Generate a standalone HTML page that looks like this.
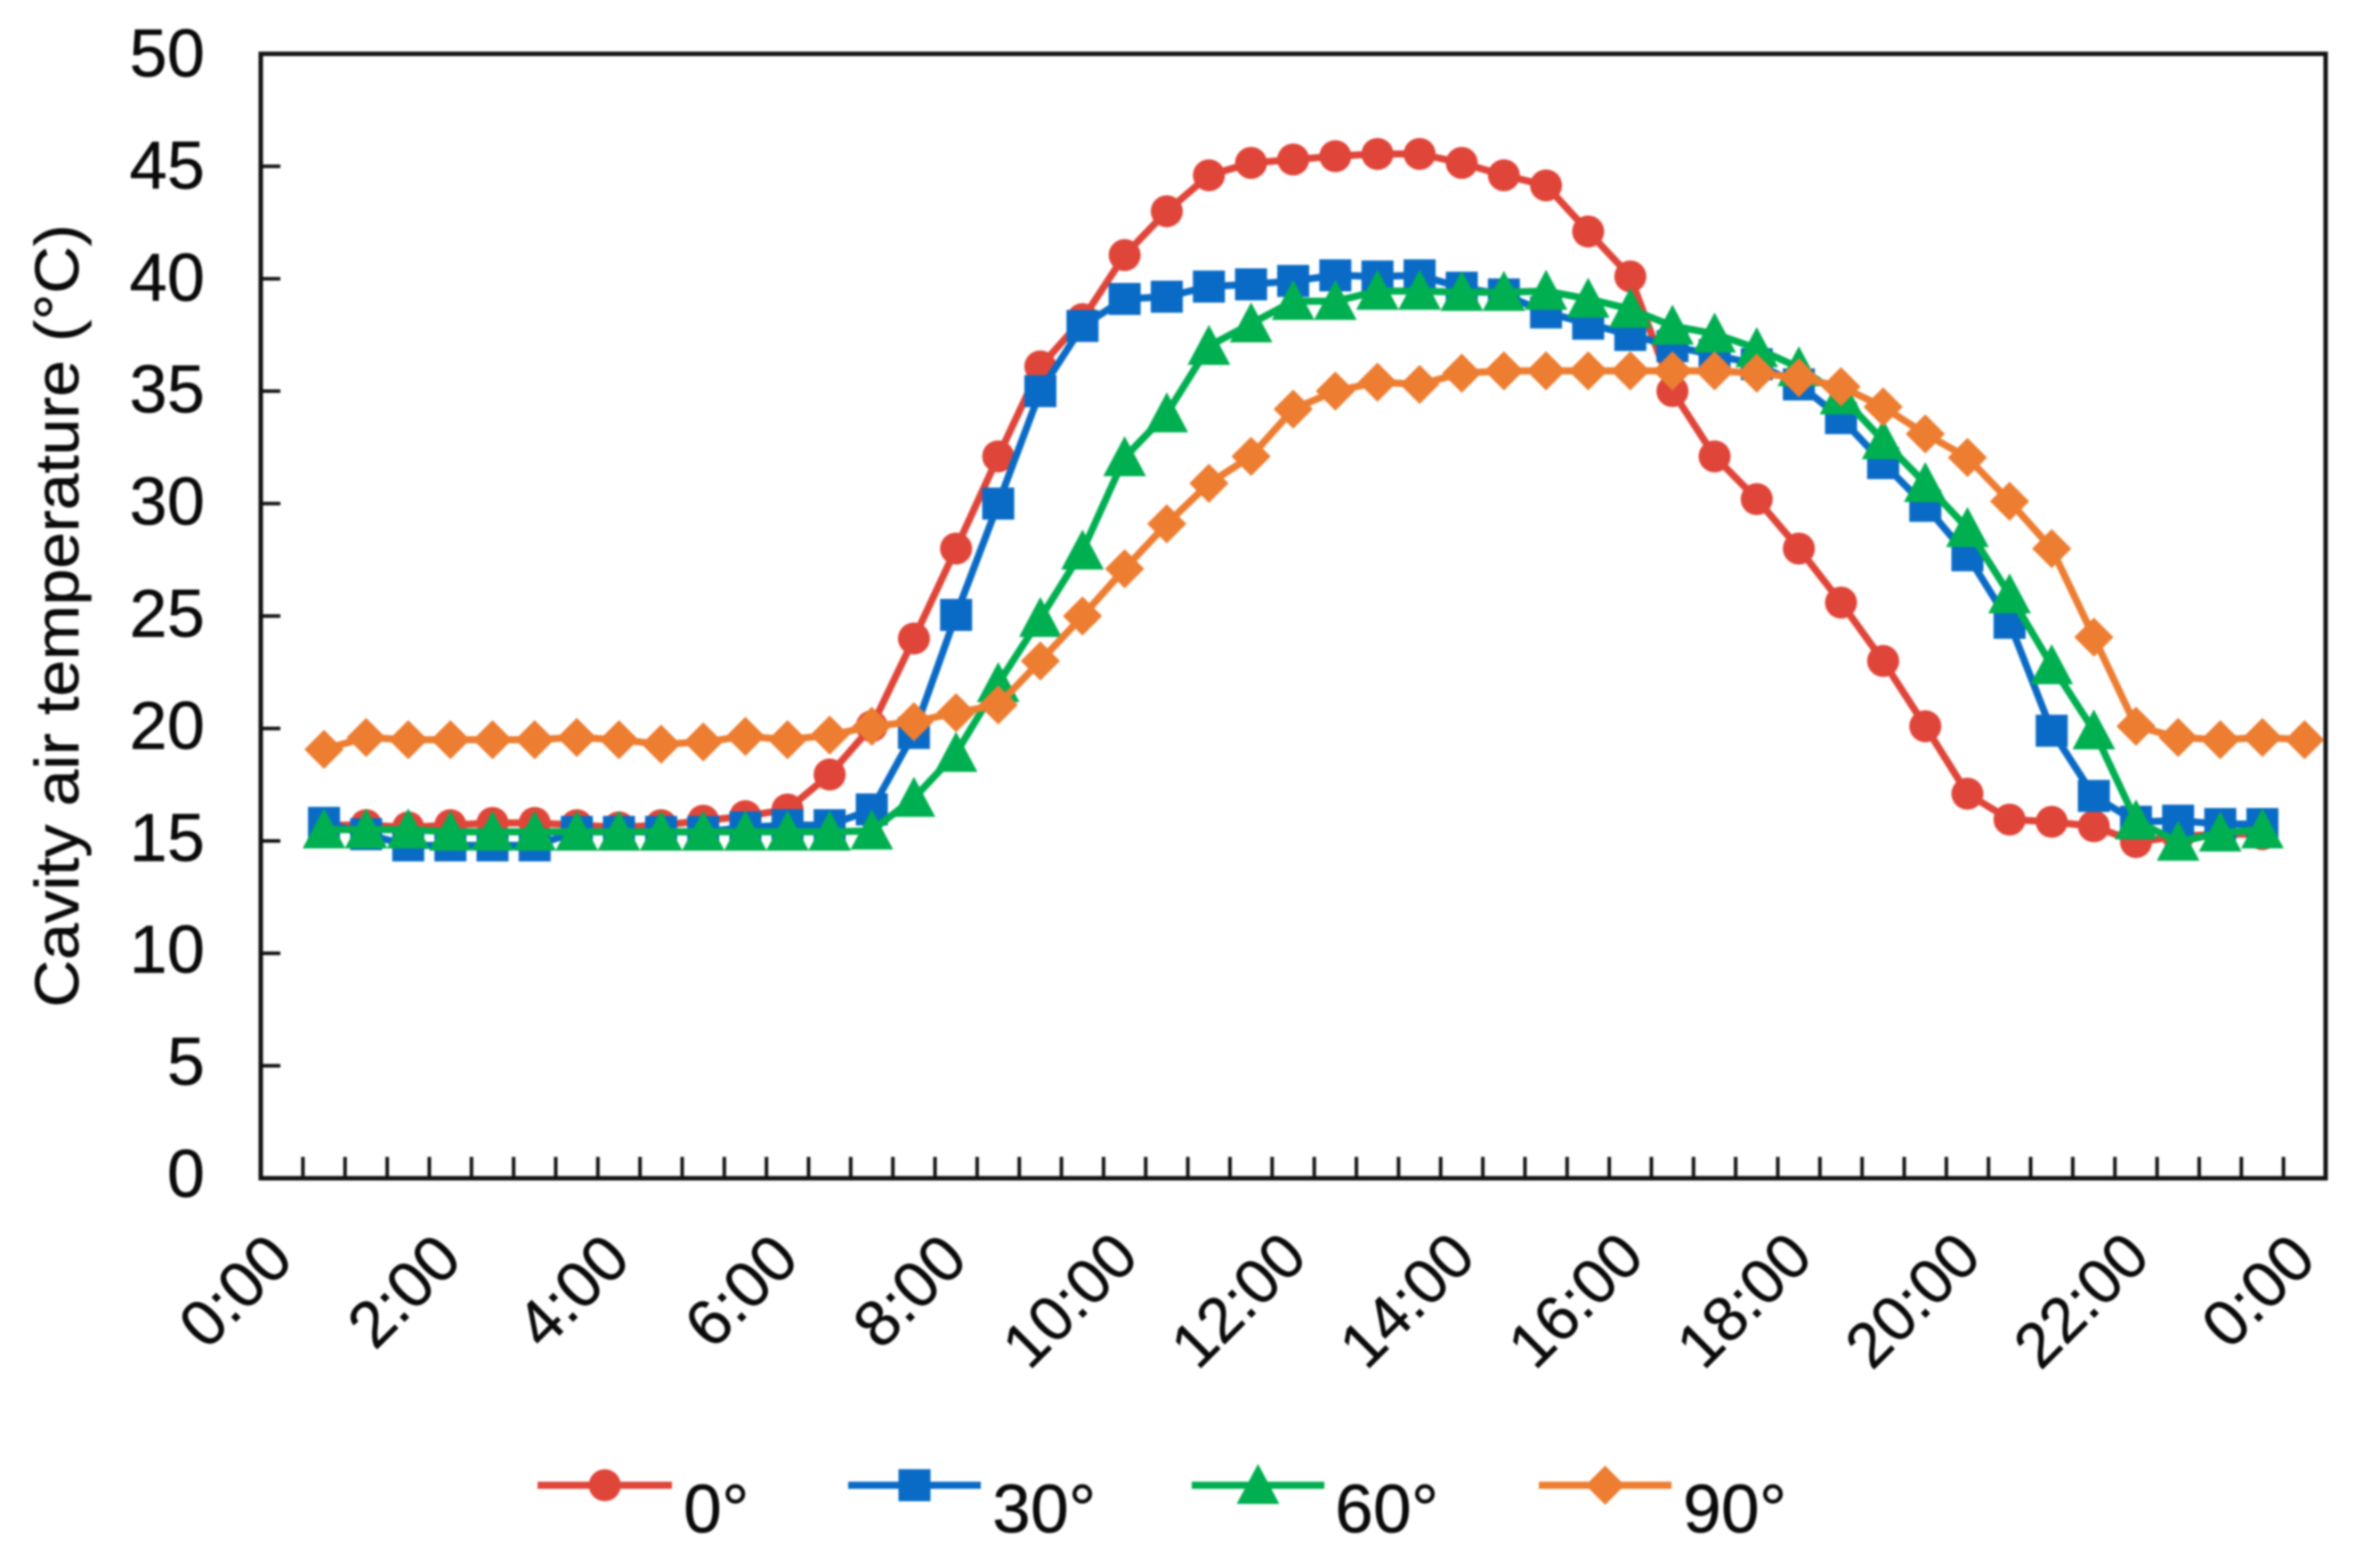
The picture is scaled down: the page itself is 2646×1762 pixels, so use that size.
<!DOCTYPE html>
<html lang="en">
<head>
<meta charset="utf-8">
<title>Cavity air temperature</title>
<style>
html,body{margin:0;padding:0;background:#fff;width:2646px;height:1762px;overflow:hidden}
svg{display:block;filter:blur(1px)}
text{font-family:"Liberation Sans",Arial,sans-serif;fill:#0a0a0a;stroke:#0a0a0a;stroke-width:0.5px}
</style>
</head>
<body>
<svg id="chart" xmlns="http://www.w3.org/2000/svg" width="2646" height="1762" viewBox="0 0 2646 1762">
  <rect x="0" y="0" width="2646" height="1762" fill="#fff"/>
  <text transform="translate(88,692) rotate(-90)" text-anchor="middle" font-size="70" textLength="880" lengthAdjust="spacingAndGlyphs">Cavity air temperature (°C)</text>
  <g id="axes"></g>
  <g id="series"></g>
  <g id="legend"></g>
</svg>
<script>
const categories = ['0:00','0:30','1:00','1:30','2:00','2:30','3:00','3:30','4:00','4:30','5:00','5:30','6:00','6:30','7:00','7:30','8:00','8:30','9:00','9:30','10:00','10:30','11:00','11:30','12:00','12:30','13:00','13:30','14:00','14:30','15:00','15:30','16:00','16:30','17:00','17:30','18:00','18:30','19:00','19:30','20:00','20:30','21:00','21:30','22:00','22:30','23:00','23:30','0:00'];
const xTickLabels = ['0:00','2:00','4:00','6:00','8:00','10:00','12:00','14:00','16:00','18:00','20:00','22:00','0:00'];
const yTickValues = [0,5,10,15,20,25,30,35,40,45,50];
const values0 = [null,15.7,15.7,15.6,15.7,15.8,15.8,15.7,15.6,15.7,15.9,16.1,16.4,17.95,20.1,24.0,28.0,32.1,36.1,38.2,41.05,43.0,44.6,45.15,45.3,45.45,45.55,45.55,45.15,44.6,44.15,42.1,40.1,35.0,32.1,30.2,28.0,25.6,23.0,20.1,17.1,15.95,15.85,15.65,14.95,15.2,15.3,15.3,null];
const values30 = [null,15.8,15.3,14.8,14.8,14.8,14.8,15.4,15.4,15.4,15.4,15.6,15.7,15.7,16.4,19.8,25.05,30.0,35.0,37.9,39.1,39.2,39.65,39.75,39.9,40.15,40.1,40.15,39.6,39.3,38.5,38.0,37.5,37.0,36.6,36.2,35.3,33.8,31.8,29.9,27.7,24.7,19.9,17.0,15.85,15.9,15.75,15.75,null];
const values60 = [null,15.5,15.5,15.5,15.4,15.4,15.4,15.4,15.4,15.4,15.4,15.4,15.4,15.4,15.45,16.9,18.9,22.0,24.9,27.9,32.05,34.0,37.0,38.0,39.0,39.0,39.45,39.45,39.4,39.4,39.45,39.1,38.65,37.9,37.55,36.9,36.05,34.8,32.8,30.9,28.9,25.95,22.8,19.9,15.9,14.95,15.36,15.5,null];
const values90 = [null,19.07,19.6,19.5,19.5,19.5,19.5,19.6,19.5,19.3,19.4,19.65,19.5,19.7,20.1,20.3,20.7,21.05,23.0,25.0,27.1,29.1,30.9,32.1,34.2,35.0,35.4,35.3,35.8,35.9,35.9,35.9,35.9,35.9,35.9,35.8,35.6,35.2,34.3,33.1,32.05,30.1,28.0,24.06,20.1,19.6,19.5,19.6,19.5];
const seriesNames = ['0°','30°','60°','90°'];

const NS = 'http://www.w3.org/2000/svg';
const PLOT = {left:293, right:2613, top:60.5, bottom:1324};
const yMax = 50;
const catCount = categories.length;
const catW = (PLOT.right - PLOT.left) / catCount;
function xPos(i){ return PLOT.left + (i + 0.5) * catW; }
function xEdge(i){ return PLOT.left + i * catW; }
function yPos(v){ return PLOT.bottom - v * (PLOT.bottom - PLOT.top) / yMax; }
function make(tag, attrs, parent){
  const el = document.createElementNS(NS, tag);
  for (const k in attrs) el.setAttribute(k, attrs[k]);
  parent.appendChild(el);
  return el;
}

const axes = document.getElementById('axes');
const frame = make('rect',{x:PLOT.left,y:PLOT.top,width:PLOT.right-PLOT.left,height:PLOT.bottom-PLOT.top,fill:'none',stroke:'#111','stroke-width':5},axes);



yTickValues.forEach(function(v){
  const yy = yPos(v);
  if (v > 0 && v < yMax) {
    const t = make('line',{x1:PLOT.left,x2:PLOT.left+22,y1:yy,y2:yy,stroke:'#111','stroke-width':4},axes);
    
    
  }
  const lab = make('text',{x:230,y:yy+21+4.5*v/yMax,'text-anchor':'end','font-size':76},axes);
  lab.textContent = String(v);
  
  
});

for (let i = 1; i < catCount; i++) {
  const t = make('line',{x1:xEdge(i),x2:xEdge(i),y1:PLOT.bottom,y2:PLOT.bottom-24,stroke:'#111','stroke-width':4},axes);
  
  
}

xTickLabels.forEach(function(label, n){
  const cx = xPos(n * 4) - 53;
  const along = label.length > 4 ? -14 : 0;
  const lab = make('text',{transform:'translate('+cx+',1450) rotate(-45)','text-anchor':'middle',x:along,y:26,'font-size':label.length > 4 ? 71 : 73},axes);
  lab.textContent = label;
  
  
});

function drawMarker(kind, cx, cy, color, parent){
  let m;
  if (kind === 'circle') {
    m = make('circle',{cx:cx,cy:cy,r:18,fill:color},parent);
  } else if (kind === 'square') {
    m = make('rect',{x:cx-18,y:cy-18,width:36,height:36,fill:color},parent);
  } else if (kind === 'triangle') {
    m = make('polygon',{points:cx+','+(cy-24)+' '+(cx+24)+','+(cy+21)+' '+(cx-24)+','+(cy+21),fill:color},parent);
  } else {
    m = make('polygon',{points:cx+','+(cy-22)+' '+(cx+22)+','+cy+' '+cx+','+(cy+22)+' '+(cx-22)+','+cy,fill:color},parent);
  }
  return m;
}

const seriesGroup = document.getElementById('series');
function drawSeries(values, color, kind, name){
  const g = make('g',{},seriesGroup);
  
  
  const pts = [];
  values.forEach(function(v,i){ if (v !== null) pts.push([xPos(i),yPos(v)]); });
  const line = make('polyline',{points:pts.map(function(p){return p[0].toFixed(1)+','+p[1].toFixed(1);}).join(' '),fill:'none',stroke:color,'stroke-width':8,'stroke-linejoin':'round'},g);
  
  
  pts.forEach(function(p){
    const m = drawMarker(kind,p[0],p[1],color,g);
    
    
  });
}
const RED='#E04539', BLUE='#0A6BC6', GREEN='#00AF50', ORANGE='#ED7D31';
drawSeries(values0,RED,'circle','0deg');
drawSeries(values30,BLUE,'square','30deg');
drawSeries(values60,GREEN,'triangle','60deg');
drawSeries(values90,ORANGE,'diamond','90deg');

const legend = document.getElementById('legend');
const legendStyle = [
  {x1:604,x2:755,tx:768,color:RED,kind:'circle'},
  {x1:953,x2:1102,tx:1115,color:BLUE,kind:'square'},
  {x1:1339,x2:1488,tx:1500,color:GREEN,kind:'triangle'},
  {x1:1729,x2:1878,tx:1891,color:ORANGE,kind:'diamond'}
];
legendStyle.forEach(function(s,n){
  const g = make('g',{},legend);
  
  
  const l = make('line',{x1:s.x1,x2:s.x2,y1:1669,y2:1669,stroke:s.color,'stroke-width':8},g);
  
  
  const m = drawMarker(s.kind,(s.x1+s.x2)/2,1669,s.color,g);
  
  
  const t = make('text',{x:s.tx,y:1722,'font-size':77},g);
  t.textContent = seriesNames[n];
  
  
});
</script>
</body>
</html>
